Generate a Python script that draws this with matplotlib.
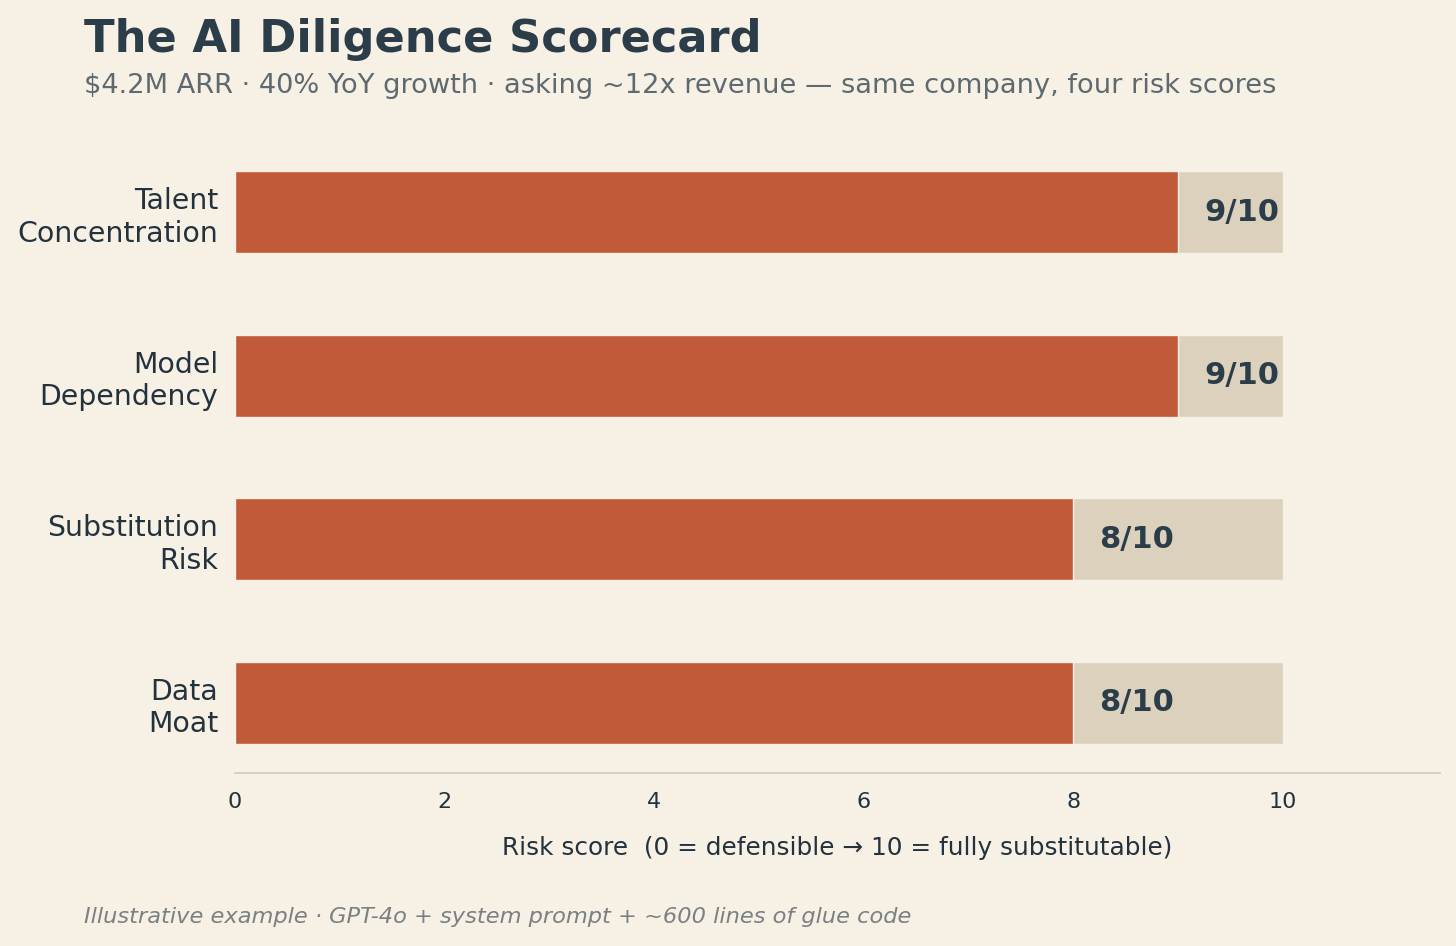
import matplotlib.pyplot as plt
import numpy as np

plt.rcParams["font.family"] = ["DejaVu Sans"]

# data
categories = ["Data\nMoat", "Substitution\nRisk", "Model\nDependency", "Talent\nConcentration"]
scores = [8, 8, 9, 9]
max_score = 10
xticks = [0, 2, 4, 6, 8, 10]

bg = "#F7F0E5"
bar_col = "#C05A39"
track_col = "#DCD1BD"
ink = "#2C3D4A"

fig = plt.figure(figsize=(14.56, 9.46), dpi=100, facecolor=bg)
ax = fig.add_axes([0.1614, 0.1829, 0.8276, 0.6671], facecolor=bg)

y = np.arange(len(categories))
ax.barh(y, [max_score] * len(y), height=0.5, color=track_col, edgecolor=bg, linewidth=1)
ax.barh(y, scores, height=0.5, color=bar_col, edgecolor=bg, linewidth=1)

for yi, s in zip(y, scores):
    ax.text(s + 0.25, yi, f"{s}/{max_score}", va="center", ha="left",
            fontsize=22, fontweight="bold", color=ink)

ax.set_xlim(0, 11.5)
ax.set_ylim(-0.43, 3.43)
ax.set_yticks(y)
ax.set_yticklabels(categories, fontsize=20.4, color="#23323D")
ax.set_xticks(xticks)
ax.set_xticklabels([str(t) for t in xticks], fontsize=16, color="#23323D")
ax.tick_params(axis="both", length=0)
ax.tick_params(axis="x", pad=14)
ax.tick_params(axis="y", pad=12)
for sp in ["top", "right", "left"]:
    ax.spines[sp].set_visible(False)
ax.spines["bottom"].set_color("#D3C9B5")
ax.spines["bottom"].set_linewidth(1.2)
ax.set_xlabel("Risk score  (0 = defensible \u2192 10 = fully substitutable)",
              fontsize=17.8, color="#23323D", labelpad=17)

fig.text(0.0577, 0.958, "The AI Diligence Scorecard", fontsize=32.2, fontweight="bold",
         color=ink, ha="left", va="center")
fig.text(0.0577, 0.909, "$4.2M ARR \u00b7 40% YoY growth \u00b7 asking ~12x revenue \u2014 same company, four risk scores",
         fontsize=19.6, color="#5E6A70", ha="left", va="center")
fig.text(0.0577, 0.031, "Illustrative example \u00b7 GPT-4o + system prompt + ~600 lines of glue code",
         fontsize=16.2, style="italic", color="#7B8082", ha="left", va="center")

fig.savefig("out.png", dpi=100, facecolor=bg)
